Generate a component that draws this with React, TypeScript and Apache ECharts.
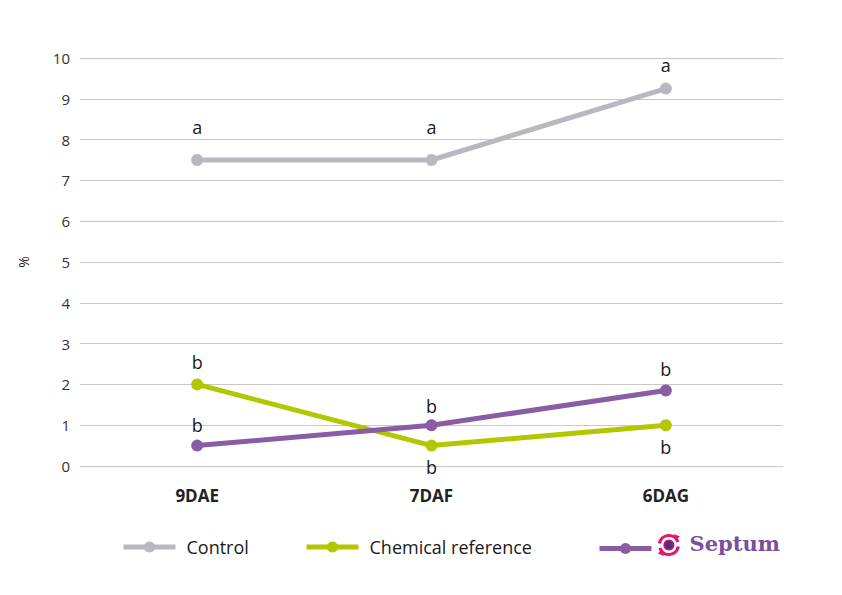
import React, { useEffect, useRef } from "react";
import * as echarts from "echarts";

const categories = ["9DAE", "7DAF", "6DAG"];
const yTicks = [0, 10];

const controlValues = [7.5, 7.5, 9.25];
const chemicalValues = [2.0, 0.5, 1.0];
const septumValues = [0.5, 1.0, 1.85];

const controlLetters = ["a", "a", "a"];
const chemicalLetters = ["b", "b", "b"];
const septumLetters = ["b", "b", "b"];

const seriesNames = ["Control", "Chemical reference", "Septum"];
const colors = ["#b9b8c0", "#b2c700", "#8a5ca4"];

const FONT = "'Open Sans', 'Noto Sans', sans-serif";

function buildData(values: number[], letters: string[], sides: string[], distances: number[]) {
  return values.map((v, i) => ({
    value: v,
    label: {
      show: true,
      formatter: letters[i],
      position: sides[i],
      distance: distances[i],
      color: "#1a1a1a",
      fontSize: 18,
      fontFamily: FONT,
    },
  }));
}

export default function App() {
  const ref = useRef<HTMLDivElement>(null);

  useEffect(() => {
    if (!ref.current) return;
    const chart = echarts.init(ref.current, null, { renderer: "svg" });

    const lineSeries = (name: string, color: string, data: any[]) => ({
      name,
      type: "line",
      data,
      symbol: "circle",
      symbolSize: 12,
      lineStyle: { width: 5, color },
      itemStyle: { color },
    });

    const legendItem = (name: string, left: number, top: number, rich: any) => ({
      data: [name],
      left,
      top,
      padding: 0,
      itemWidth: 52,
      itemHeight: 14,
      lineStyle: { width: 5 },
      formatter: "{t|{name}}",
      textStyle: { rich: { t: rich } },
    });

    const plainText = { fontSize: 18, color: "#1a1a1a", fontFamily: FONT, padding: [0, 0, 0, 6] };

    chart.setOption({
      animation: false,
      grid: { left: 80, right: 59, top: 58, bottom: 129 },
      xAxis: {
        type: "category",
        data: categories,
        boundaryGap: true,
        axisLine: { show: false },
        axisTick: { show: false },
        axisLabel: {
          margin: 21,
          fontSize: 17,
          fontWeight: "bold",
          color: "#222",
          fontFamily: FONT,
        },
      },
      yAxis: {
        type: "value",
        min: yTicks[0],
        max: yTicks[1],
        interval: 1,
        name: "%",
        nameLocation: "middle",
        nameGap: 50,
        nameRotate: 90,
        nameTextStyle: { fontSize: 14, color: "#222", fontFamily: FONT },
        axisLine: { show: false },
        axisTick: { show: false },
        axisLabel: { margin: 10, fontSize: 15, color: "#333", fontFamily: FONT },
        splitLine: { lineStyle: { color: "#c8c8c8", width: 1 } },
      },
      legend: [
        legendItem(seriesNames[0], 121, 538, plainText),
        legendItem(seriesNames[1], 304, 538, plainText),
        legendItem(seriesNames[2], 597, 533, {
          fontSize: 21,
          fontWeight: "bold",
          color: "#7a4f9e",
          fontFamily: "'DejaVu Serif', serif",
          padding: [0, 0, 10, 33],
        }),
      ],
      graphic: [
        {
          type: "group",
          left: 657,
          top: 533,
          children: [
            {
              type: "arc",
              shape: { cx: 12, cy: 12, r: 9.5, startAngle: -Math.PI * 0.95, endAngle: -Math.PI * 0.1 },
              style: { stroke: "#e0176c", lineWidth: 3.2, fill: null },
            },
            {
              type: "arc",
              shape: { cx: 12, cy: 12, r: 9.5, startAngle: Math.PI * 0.05, endAngle: Math.PI * 0.9 },
              style: { stroke: "#e0176c", lineWidth: 3.2, fill: null },
            },
            {
              type: "polygon",
              shape: { points: [[17, 1], [23, 3.5], [18.5, 8]] },
              style: { fill: "#e0176c" },
            },
            {
              type: "polygon",
              shape: { points: [[7, 23], [1, 20.5], [5.5, 16]] },
              style: { fill: "#e0176c" },
            },
            {
              type: "circle",
              shape: { cx: 12, cy: 12, r: 5.5 },
              style: { fill: "#c4186e" },
            },
            {
              type: "circle",
              shape: { cx: 12, cy: 12, r: 4 },
              style: { fill: "#5b2a86" },
            },
          ],
        },
      ],
      series: [
        lineSeries(
          seriesNames[0],
          colors[0],
          buildData(controlValues, controlLetters, ["top", "top", "top"], [18, 18, 9])
        ),
        lineSeries(
          seriesNames[1],
          colors[1],
          buildData(chemicalValues, chemicalLetters, ["top", "bottom", "bottom"], [7, 6, 7])
        ),
        lineSeries(
          seriesNames[2],
          colors[2],
          buildData(septumValues, septumLetters, ["top", "top", "top"], [6, 4, 7])
        ),
      ],
    });

    return () => chart.dispose();
  }, []);

  return <div ref={ref} style={{ width: 842, height: 595, position: "absolute", left: 0, top: 0 }} />;
}
